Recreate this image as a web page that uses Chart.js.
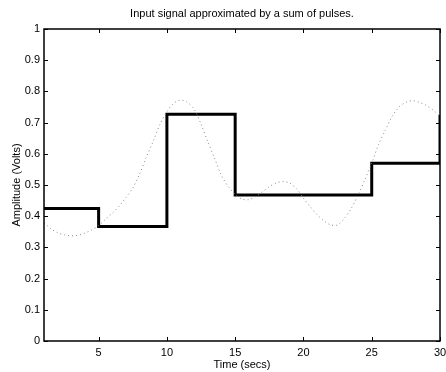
<!DOCTYPE html>
<html>
<head>
<meta charset="utf-8">
<script src="https://cdn.jsdelivr.net/npm/chart.js@4/dist/chart.umd.min.js"></script>
<style>
    html, body { margin: 0; padding: 0; background: #fff; }
    #wrap { width: 446px; height: 372px; }
</style>
</head>
<body>
<div id="wrap"><canvas id="chartCanvas"></canvas></div>
<script>
// pulse approximation (value held from previous time until this time)
const pulseTimes = [1, 5, 10, 15, 20, 25, 30];
const pulseValues = [0.425, 0.367, 0.727, 0.468, 0.468, 0.57, 0.724];

// original input signal (dotted)
const signalTimes = [1, 1.5, 2, 2.5, 3, 3.5, 4, 4.5, 5, 5.5, 6, 6.5, 7, 7.5, 8, 8.5, 9, 9.5, 10,
    10.5, 11, 11.5, 12, 12.5, 13, 13.5, 14, 14.5, 15, 15.5, 16, 16.5, 17, 17.5, 18, 18.5, 19, 19.5,
    20, 20.5, 21, 21.5, 22, 22.5, 23, 23.5, 24, 24.5, 25, 25.5, 26, 26.5, 27, 27.5, 28, 28.5, 29, 29.5, 30];
const signalValues = [0.38, 0.36, 0.347, 0.34, 0.337, 0.339, 0.346, 0.356, 0.37, 0.39, 0.41, 0.432,
    0.46, 0.49, 0.535, 0.59, 0.64, 0.695, 0.735, 0.762, 0.772, 0.765, 0.743, 0.695, 0.638, 0.585,
    0.53, 0.495, 0.47, 0.455, 0.453, 0.463, 0.478, 0.495, 0.506, 0.511, 0.506, 0.488, 0.458, 0.43,
    0.405, 0.385, 0.372, 0.372, 0.393, 0.425, 0.468, 0.517, 0.57, 0.63, 0.676, 0.72, 0.75, 0.765,
    0.77, 0.765, 0.755, 0.74, 0.72];

const xTicks = [5, 10, 15, 20, 25, 30];
const yTicks = [0, 0.1, 0.2, 0.3, 0.4, 0.5, 0.6, 0.7, 0.8, 0.9, 1];
const titleText = 'Input signal approximated by a sum of pulses.';

const font = { family: 'Liberation Sans, Arial, sans-serif', size: 11 };

// matlab style box with inward ticks, title centred over the axes
const boxPlugin = {
    id: 'box',
    afterDraw(chart) {
        const { ctx, chartArea: a, scales } = chart;
        ctx.save();
        ctx.strokeStyle = '#000';
        ctx.lineWidth = 1;
        ctx.beginPath();
        xTicks.forEach(v => {
            const x = Math.round(scales.x.getPixelForValue(v)) + 0.5;
            ctx.moveTo(x, a.bottom); ctx.lineTo(x, a.bottom - 4);
            ctx.moveTo(x, a.top); ctx.lineTo(x, a.top + 4);
        });
        yTicks.forEach(v => {
            const y = Math.round(scales.y.getPixelForValue(v)) + 0.5;
            ctx.moveTo(a.left, y); ctx.lineTo(a.left + 4, y);
            ctx.moveTo(a.right, y); ctx.lineTo(a.right - 4, y);
        });
        ctx.stroke();
        ctx.lineWidth = 1.5;
        ctx.strokeRect(a.left, a.top, a.right - a.left, a.bottom - a.top);

        ctx.fillStyle = '#000';
        ctx.font = `${font.size}px ${font.family}`;
        ctx.textAlign = 'center';
        ctx.textBaseline = 'middle';
        ctx.fillText(titleText, (a.left + a.right) / 2, 14);
        ctx.restore();
    }
};

new Chart(document.getElementById('chartCanvas'), {
    type: 'line',
    data: {
        datasets: [{
            data: signalTimes.map((t, i) => ({ x: t, y: signalValues[i] })),
            borderColor: '#888',
            borderWidth: 1,
            borderDash: [1, 3],
            pointRadius: 0,
            tension: 0.3,
            fill: false
        }, {
            data: pulseTimes.map((t, i) => ({ x: t, y: pulseValues[i] })),
            borderColor: '#000',
            borderWidth: 3,
            pointRadius: 0,
            stepped: 'before',
            fill: false
        }]
    },
    plugins: [boxPlugin],
    options: {
        responsive: true,
        maintainAspectRatio: false,
        animation: false,
        layout: { padding: { left: 0, right: 6, top: 29, bottom: 0 } },
        plugins: {
            legend: { display: false },
            tooltip: { enabled: false },
            title: { display: false }
        },
        scales: {
            x: {
                type: 'linear',
                min: 1,
                max: 30,
                afterBuildTicks: s => { s.ticks = xTicks.map(v => ({ value: v })); },
                afterFit: s => { s.height = 31; s.paddingRight = 0; s.paddingLeft = 0; },
                grid: { display: false, drawTicks: false },
                border: { display: false },
                ticks: { color: '#000', font, padding: 5, maxRotation: 0, autoSkip: false },
                title: { display: true, text: 'Time (secs)', color: '#000', font, padding: { top: 0, bottom: 0 } }
            },
            y: {
                type: 'linear',
                min: 0,
                max: 1,
                afterBuildTicks: s => { s.ticks = yTicks.map(v => ({ value: v })); },
                afterFit: s => { s.width = 44; s.paddingTop = 0; s.paddingBottom = 0; },
                grid: { display: false, drawTicks: false },
                border: { display: false },
                ticks: { color: '#000', font, padding: 4, callback: v => String(v) },
                title: { display: true, text: 'Amplitude (Volts)', color: '#000', font, padding: { top: 10, bottom: 0 } }
            }
        }
    }
});
</script>
</body>
</html>
